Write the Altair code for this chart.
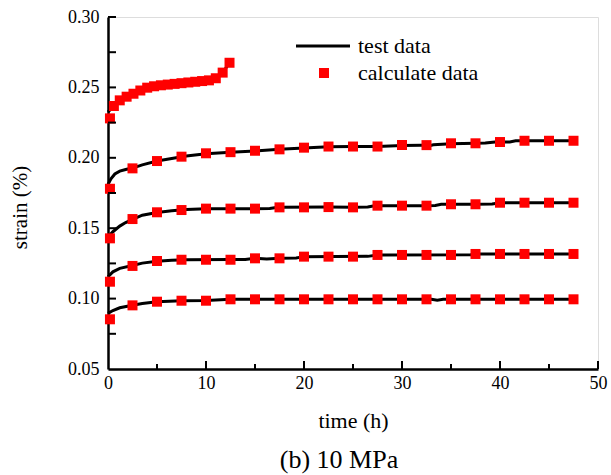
import altair as alt
import pandas as pd

FONT = "'Liberation Serif', 'Times New Roman', Times, serif"

# ---------- calculated data (red squares) ----------
t_calc = [0.2, 2.5, 5, 7.5, 10, 12.5, 15, 17.5, 20, 22.5, 25, 27.5, 30, 32.5, 35, 37.5, 40, 42.5, 45, 47.5]
calc_b = [0.178, 0.1925, 0.1977, 0.2008, 0.2032, 0.204, 0.205, 0.206, 0.2072, 0.208, 0.208, 0.208, 0.2091, 0.209, 0.2103, 0.2103, 0.2112, 0.2121, 0.2121, 0.2121]
calc_c = [0.1428, 0.1565, 0.1613, 0.1629, 0.1639, 0.1639, 0.1639, 0.1648, 0.1648, 0.1650, 0.1648, 0.166, 0.166, 0.166, 0.167, 0.167, 0.1681, 0.1681, 0.1681, 0.1681]
calc_d = [0.112, 0.1232, 0.1267, 0.1276, 0.1276, 0.1276, 0.1286, 0.1286, 0.1298, 0.1298, 0.1298, 0.131, 0.131, 0.131, 0.131, 0.1317, 0.1317, 0.1317, 0.1317, 0.1317]
calc_e = [0.0853, 0.0952, 0.0978, 0.0985, 0.0985, 0.0995, 0.0995, 0.0995, 0.0995, 0.0995, 0.0995, 0.0995, 0.0995, 0.0995, 0.0995, 0.0995, 0.0995, 0.0995, 0.0995, 0.0995]

t_calc_a = [0.2, 0.6, 1.2, 1.9, 2.6, 3.3, 4.0, 4.7, 5.4, 6.1, 6.8, 7.5, 8.2, 8.9, 9.6, 10.3, 11.0, 11.7, 12.4]
calc_a = [0.228, 0.2368, 0.2408, 0.2434, 0.2455, 0.2478, 0.2498, 0.2508, 0.2515, 0.252, 0.2525, 0.253, 0.2535, 0.254, 0.2545, 0.255, 0.2565, 0.2605, 0.2675]

# ---------- test data (black lines) ----------
t_test_a = [0, 0.6, 1.2, 1.9, 2.6, 3.3, 4.0, 4.7, 5.4, 6.1, 6.8, 7.5, 8.2, 8.9, 9.6, 10.3, 11.0, 11.7, 12.4]
test_a = [0.2325, 0.2368, 0.2408, 0.2434, 0.2455, 0.2478, 0.2498, 0.2508, 0.2515, 0.252, 0.2525, 0.253, 0.2535, 0.254, 0.2545, 0.255, 0.2565, 0.2605, 0.2675]

t_test_b = [0, 0.3, 0.7, 1.2, 1.8, 2.5, 3.5, 5, 6.5, 8, 10, 12.5, 15, 17.5, 20, 22.5, 25, 27.5, 30, 32.0, 32.6, 33.2, 35, 37.5, 38.5, 39.5, 41.0, 41.6, 45, 47.5]
test_b = [0.181, 0.185, 0.1885, 0.1905, 0.1917, 0.1927, 0.195, 0.1977, 0.1995, 0.2012, 0.2028, 0.204, 0.2048, 0.206, 0.207, 0.2078, 0.208, 0.208, 0.2088, 0.209, 0.2083, 0.2092, 0.21, 0.2103, 0.2105, 0.2112, 0.2113, 0.2121, 0.2121, 0.2121]

t_test_c = [0, 0.5, 1.2, 1.8, 2.5, 3.5, 5, 6.5, 8, 10, 12.5, 15, 16.5, 17.0, 17.5, 22.5, 25, 26.5, 27.2, 32.5, 33.4, 34.0, 37.5, 39.2, 40.0, 47.5]
test_c = [0.1438, 0.1475, 0.1515, 0.154, 0.1562, 0.1592, 0.1612, 0.1624, 0.1632, 0.1638, 0.1639, 0.1639, 0.164, 0.1645, 0.1648, 0.165, 0.1648, 0.165, 0.166, 0.166, 0.1662, 0.167, 0.167, 0.1672, 0.1681, 0.1681]

t_test_d = [0, 0.5, 1.2, 2.5, 3.5, 5, 6.5, 8, 12.5, 14.0, 15, 16.2, 17.5, 19.2, 20, 26.5, 27.5, 37.0, 37.5, 47.5]
test_d = [0.1155, 0.119, 0.1215, 0.1235, 0.1252, 0.1265, 0.1272, 0.1276, 0.1277, 0.1278, 0.1286, 0.1282, 0.1286, 0.1288, 0.1298, 0.13, 0.131, 0.1311, 0.1317, 0.1317]

t_test_e = [0, 0.5, 1.2, 2.5, 3.5, 5, 7.5, 10, 11, 12.5, 33.0, 33.6, 34.2, 47.5]
test_e = [0.0895, 0.0915, 0.0935, 0.0953, 0.0965, 0.0978, 0.0985, 0.0987, 0.099, 0.0995, 0.0995, 0.0988, 0.0995, 0.0995]

# axis ticks / labels
y_labels = [0.05, 0.10, 0.15, 0.20, 0.25, 0.30]
y_ticks = [0.075, 0.10, 0.125, 0.15, 0.175, 0.20, 0.225, 0.25, 0.275, 0.30]
x_labels = [0, 10, 20, 30, 40, 50]
x_major_ticks = [10, 20, 30, 40, 50]
x_minor_ticks = [5, 15, 25, 35, 45]

legend_items = ["test data", "calculate data"]

W, H = 490, 352


def frame(ts, vs, name):
    return pd.DataFrame({"t": ts, "strain": vs, "series": name})


test_df = pd.concat([
    frame(t_test_a, test_a, "a"), frame(t_test_b, test_b, "b"), frame(t_test_c, test_c, "c"),
    frame(t_test_d, test_d, "d"), frame(t_test_e, test_e, "e")], ignore_index=True)
calc_df = pd.concat([
    frame(t_calc_a, calc_a, "a"), frame(t_calc, calc_b, "b"), frame(t_calc, calc_c, "c"),
    frame(t_calc, calc_d, "d"), frame(t_calc, calc_e, "e")], ignore_index=True)

xscale = alt.Scale(domain=[0, 50], nice=False, zero=False)
yscale = alt.Scale(domain=[0.05, 0.30], nice=False, zero=False)

x_enc = alt.X("t:Q", scale=xscale, title="time (h)",
              axis=alt.Axis(values=x_labels, ticks=False, grid=False, domainColor="black",
                            domainWidth=2.5, labelFont=FONT, labelFontSize=18, labelColor="black",
                            labelPadding=5, labelFlush=False, titleFont=FONT, titleFontSize=22,
                            titleFontWeight="normal", titleColor="black", titleY=51,
                            titleBaseline="middle"))
y_enc = alt.Y("strain:Q", scale=yscale, title="strain (%)",
              axis=alt.Axis(values=y_labels, format=".2f", ticks=False, grid=False,
                            domainColor="black", domainWidth=2.5, labelFont=FONT, labelFontSize=18,
                            labelColor="black", labelPadding=9, labelFlush=False, titleFont=FONT,
                            titleFontSize=21, titleFontWeight="normal", titleColor="black",
                            titleX=-88, titleY=190, titleAlign="center", titleBaseline="middle"))

lines = alt.Chart(test_df).mark_line(color="black", strokeWidth=3).encode(
    x=x_enc, y=y_enc, detail="series:N")
squares = alt.Chart(calc_df).mark_square(color="red", size=100, opacity=1).encode(
    x=alt.X("t:Q", scale=xscale), y=alt.Y("strain:Q", scale=yscale), detail="series:N")

ytick_layer = alt.Chart(pd.DataFrame({"v": y_ticks})).mark_rule(color="black", strokeWidth=2).encode(
    y=alt.Y("v:Q", scale=yscale), x=alt.value(0), x2=alt.value(8))
xmaj_layer = alt.Chart(pd.DataFrame({"v": x_major_ticks})).mark_rule(color="black", strokeWidth=2).encode(
    x=alt.X("v:Q", scale=xscale), y=alt.value(H), y2=alt.value(H - 8))
xmin_layer = alt.Chart(pd.DataFrame({"v": x_minor_ticks})).mark_rule(color="black", strokeWidth=2).encode(
    x=alt.X("v:Q", scale=xscale), y=alt.value(H), y2=alt.value(H - 5))

# legend
leg_line = alt.Chart(pd.DataFrame({"k": [legend_items[0]]})).mark_rule(color="black", strokeWidth=3).encode(
    x=alt.value(188), x2=alt.value(242), y=alt.value(29))
leg_sq = alt.Chart(pd.DataFrame({"k": [legend_items[1]]})).mark_square(color="red", size=100, opacity=1).encode(
    x=alt.value(216), y=alt.value(56))
leg_text = alt.Chart(pd.DataFrame({"k": legend_items, "yy": [29, 56]})).mark_text(
    align="left", baseline="middle", font=FONT, fontSize=22, color="black").encode(
    x=alt.value(250), y=alt.Y("yy:Q", scale=None), text="k:N")

chart = alt.layer(lines, squares, ytick_layer, xmaj_layer, xmin_layer, leg_line, leg_sq, leg_text).properties(
    width=W, height=H,
    title=alt.TitleParams("(b) 10 MPa", orient="bottom", anchor="middle", font=FONT, fontSize=26,
                          fontWeight="normal", color="black", offset=16, dx=-14),
    autosize=alt.AutoSizeParams(type="none"),
    padding={"left": 108, "top": 17, "right": 13, "bottom": 106},
).configure_view(stroke=None).configure(background="white")

chart.save("out.html", embed_options={"renderer": "svg", "actions": False})
